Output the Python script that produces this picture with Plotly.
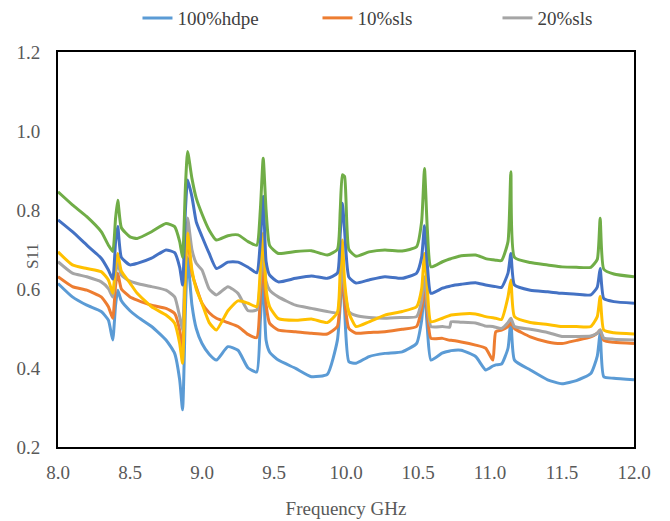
import plotly.graph_objects as go

freq = [8.00, 8.10, 8.20, 8.30, 8.35, 8.38, 8.40, 8.415, 8.44, 8.50, 8.55, 8.65, 8.75, 8.81, 8.845, 8.865,
        8.885, 8.90, 8.93, 8.96, 9.00, 9.05, 9.10, 9.18, 9.25, 9.32, 9.38, 9.405, 9.425, 9.445, 9.47, 9.53,
        9.65, 9.76, 9.87, 9.94, 9.96, 9.975, 9.99, 10.02, 10.07, 10.16, 10.27, 10.39, 10.49, 10.525, 10.545,
        10.565, 10.59, 10.67, 10.72, 10.73, 10.80, 10.90, 10.97, 11.02, 11.04, 11.08, 11.125, 11.145, 11.17,
        11.28, 11.40, 11.50, 11.60, 11.70, 11.745, 11.765, 11.79, 11.86, 12.00]

hdpe100 = [0.614, 0.58, 0.559, 0.543, 0.521, 0.471, 0.56, 0.597, 0.57, 0.545, 0.53, 0.505, 0.471, 0.437, 0.37, 0.294,
           0.55, 0.68, 0.56, 0.50, 0.462, 0.435, 0.42, 0.454, 0.445, 0.40, 0.39, 0.52, 0.63, 0.47, 0.44, 0.42,
           0.399, 0.378, 0.384, 0.47, 0.56, 0.64, 0.55, 0.416, 0.412, 0.429, 0.437, 0.441, 0.462, 0.52, 0.597,
           0.50, 0.42, 0.438, 0.443, 0.444, 0.445, 0.429, 0.395, 0.405, 0.408, 0.41, 0.45, 0.521, 0.42,
           0.395, 0.37, 0.36, 0.368, 0.386, 0.43, 0.488, 0.378, 0.374, 0.37]

sls10 = [0.631, 0.606, 0.597, 0.58, 0.555, 0.526, 0.61, 0.64, 0.60, 0.58, 0.572, 0.559, 0.551, 0.538, 0.496, 0.445,
         0.66, 0.728, 0.64, 0.605, 0.564, 0.54, 0.526, 0.515, 0.505, 0.485, 0.477, 0.58, 0.665, 0.56, 0.513, 0.496,
         0.492, 0.488, 0.486, 0.505, 0.58, 0.64, 0.57, 0.50, 0.488, 0.49, 0.492, 0.498, 0.505, 0.55, 0.606,
         0.54, 0.475, 0.475, 0.47, 0.47, 0.466, 0.458, 0.45, 0.42, 0.492, 0.496, 0.505, 0.513, 0.50,
         0.479, 0.466, 0.462, 0.47, 0.479, 0.488, 0.496, 0.47, 0.465, 0.462]

sls20 = [0.669, 0.64, 0.631, 0.618, 0.601, 0.58, 0.64, 0.665, 0.635, 0.62, 0.614, 0.606, 0.597, 0.58, 0.53, 0.496,
         0.70, 0.78, 0.70, 0.665, 0.648, 0.60, 0.585, 0.606, 0.589, 0.545, 0.547, 0.62, 0.699, 0.62, 0.597, 0.58,
         0.559, 0.551, 0.543, 0.54, 0.60, 0.665, 0.60, 0.543, 0.533, 0.528, 0.526, 0.528, 0.53, 0.57, 0.631,
         0.56, 0.505, 0.505, 0.503, 0.517, 0.516, 0.514, 0.506, 0.505, 0.503, 0.50, 0.515, 0.526, 0.505,
         0.498, 0.49, 0.48, 0.48, 0.481, 0.488, 0.496, 0.476, 0.473, 0.471]

sls30 = [0.694, 0.661, 0.652, 0.644, 0.623, 0.589, 0.66, 0.69, 0.645, 0.615, 0.589, 0.555, 0.534, 0.513, 0.462, 0.412,
         0.65, 0.742, 0.648, 0.60, 0.563, 0.515, 0.496, 0.545, 0.57, 0.564, 0.555, 0.65, 0.742, 0.60, 0.555, 0.525,
         0.521, 0.524, 0.515, 0.54, 0.65, 0.724, 0.62, 0.54, 0.505, 0.517, 0.534, 0.543, 0.555, 0.60, 0.69,
         0.60, 0.517, 0.526, 0.533, 0.534, 0.537, 0.537, 0.53, 0.527, 0.526, 0.523, 0.58, 0.623, 0.53,
         0.515, 0.51, 0.505, 0.505, 0.505, 0.53, 0.581, 0.496, 0.489, 0.486]

sls40 = [0.775, 0.745, 0.711, 0.678, 0.648, 0.625, 0.72, 0.758, 0.68, 0.661, 0.665, 0.678, 0.699, 0.692, 0.655, 0.61,
         0.80, 0.876, 0.834, 0.77, 0.733, 0.69, 0.652, 0.668, 0.668, 0.655, 0.641, 0.72, 0.834, 0.67, 0.635, 0.618,
         0.627, 0.633, 0.627, 0.64, 0.74, 0.817, 0.75, 0.63, 0.615, 0.623, 0.631, 0.627, 0.64, 0.68, 0.76,
         0.66, 0.589, 0.602, 0.607, 0.608, 0.612, 0.616, 0.61, 0.607, 0.606, 0.604, 0.64, 0.69, 0.61,
         0.597, 0.593, 0.589, 0.587, 0.585, 0.605, 0.652, 0.576, 0.568, 0.564]

sls50 = [0.846, 0.813, 0.783, 0.745, 0.711, 0.695, 0.78, 0.825, 0.755, 0.732, 0.728, 0.745, 0.766, 0.758, 0.72, 0.68,
         0.86, 0.948, 0.88, 0.83, 0.79, 0.749, 0.724, 0.735, 0.737, 0.72, 0.711, 0.80, 0.931, 0.80, 0.71, 0.69,
         0.695, 0.697, 0.686, 0.70, 0.80, 0.889, 0.885, 0.70, 0.683, 0.694, 0.699, 0.696, 0.707, 0.77, 0.905,
         0.75, 0.656, 0.669, 0.676, 0.677, 0.684, 0.686, 0.677, 0.674, 0.673, 0.672, 0.72, 0.897, 0.68,
         0.667, 0.661, 0.656, 0.655, 0.655, 0.675, 0.779, 0.65, 0.638, 0.631]

series = [
    ("100%hdpe", hdpe100, "#5B9BD5", True),
    ("10%sls", sls10, "#ED7D31", True),
    ("20%sls", sls20, "#A5A5A5", True),
    ("30%sls", sls30, "#FFC000", False),
    ("40%sls", sls40, "#4472C4", False),
    ("50%sls", sls50, "#70AD47", False),
]

font_family = "Liberation Serif, Times New Roman, serif"

fig = go.Figure()
for name, vals, color, show in series:
    fig.add_trace(go.Scatter(x=freq, y=vals, mode="lines", name=name,
                             line=dict(color=color, width=3, shape="spline", smoothing=0.5),
                             showlegend=show))

fig.update_layout(
    width=670, height=521,
    margin=dict(l=58, r=36, t=52, b=74, autoexpand=False),
    paper_bgcolor="white", plot_bgcolor="white",
    font=dict(family=font_family, size=19, color="#595959"),
    showlegend=True,
    legend=dict(orientation="h", x=0.138, y=1.086,
                xanchor="left", yanchor="middle", entrywidth=135,
                font=dict(family=font_family, size=19, color="#404040"),
                bgcolor="rgba(0,0,0,0)"),
    xaxis=dict(range=[8, 12], dtick=0.5, tick0=8, tickformat=".1f", showgrid=False, zeroline=False,
               showline=True, linecolor="black", linewidth=2, mirror=True, ticks="",
               ticklabelstandoff=7,
               title=dict(text="Frequency GHz", font=dict(family=font_family, size=19, color="#595959"),
                          standoff=20)),
    yaxis=dict(range=[0.2, 1.2], dtick=0.2, tick0=0.2, tickformat=".1f", showgrid=False, zeroline=False,
               showline=True, linecolor="black", linewidth=2, mirror=True, ticks="",
               ticklabelstandoff=12),
    annotations=[dict(text="S11", textangle=-90, xref="paper", yref="paper", x=-0.043, y=0.484,
                      xanchor="center", yanchor="middle",
                      showarrow=False, font=dict(family=font_family, size=17, color="#595959"))],
)

fig.write_html("out.html")
